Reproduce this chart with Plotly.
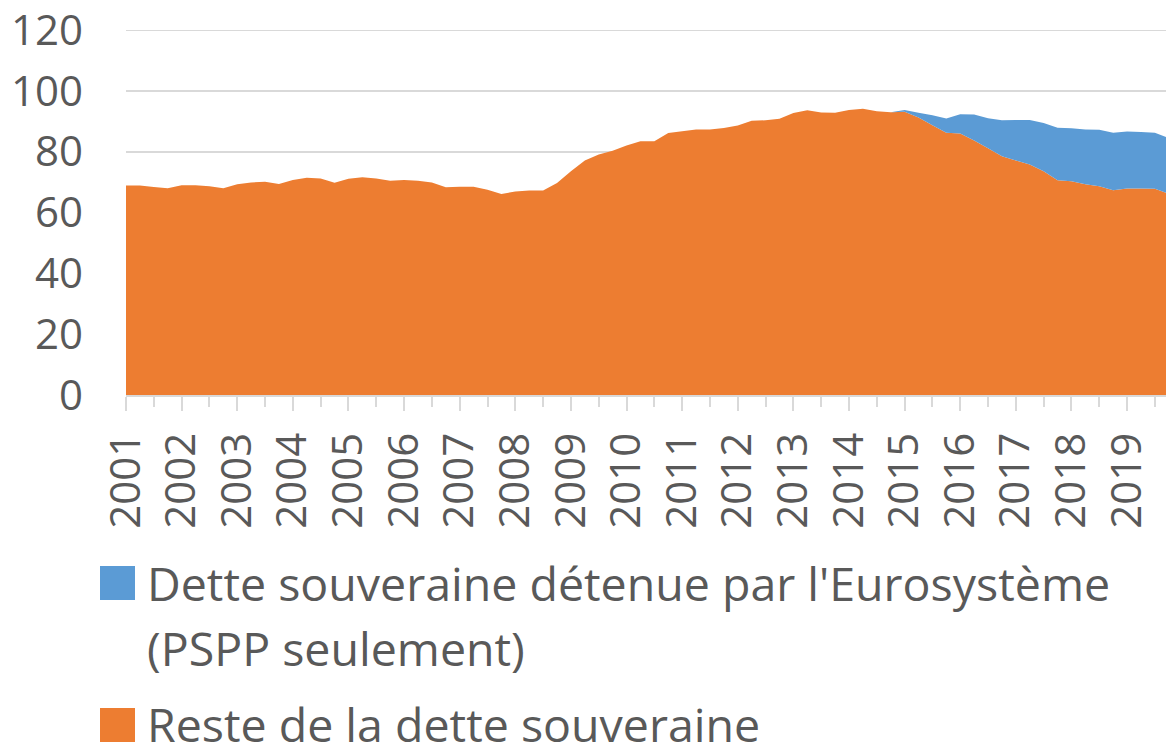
import plotly.graph_objects as go

# ---- data (quarterly, 2001Q1 .. 2019Q4) ----
years = [str(y) for y in range(2001, 2020)]
reste = [68.9, 68.9, 68.4, 68.0, 69.0, 69.0, 68.6, 68.0, 69.3, 69.9, 70.1, 69.4,
         70.7, 71.4, 71.2, 69.8, 71.1, 71.6, 71.2, 70.4, 70.7, 70.4, 69.9, 68.3,
         68.5, 68.5, 67.5, 66.1, 66.9, 67.2, 67.2, 69.7, 73.6, 77.1, 79.1, 80.3,
         82.0, 83.4, 83.4, 86.1, 86.7, 87.3, 87.3, 87.8, 88.6, 90.2, 90.3, 90.8,
         92.7, 93.6, 92.9, 92.8, 93.7, 94.1, 93.3, 93.0, 93.1, 91.2, 88.7, 86.2,
         86.0, 83.7, 81.1, 78.5, 77.1, 75.8, 73.6, 70.6, 70.3, 69.3, 68.6, 67.3,
         67.9, 67.9, 67.8, 66.2]
pspp = [0.0] * 56 + [0.6, 1.6, 3.3, 4.7, 6.3, 8.5, 9.9, 11.8, 13.3, 14.6, 15.8, 17.3,
                     17.4, 18.0, 18.6, 18.9, 18.7, 18.6, 18.4, 18.3]
idx = list(range(len(reste)))
label_blue = "Dette souveraine détenue par l'Eurosystème"
label_blue2 = "(PSPP seulement)"
label_orange = "Reste de la dette souveraine"

ORANGE = "#ED7D31"
BLUE = "#5B9BD5"
TXT = "#595959"
GRID = "#D9D9D9"
FONT = "Open Sans"
FS_TICK = 42
FS_LEG = 46.5

W, H = 1166, 744
L, R, T, B = 126, 0, 30, 744 - 395
PW, PH = W - L - R, H - T - B


def px(x):  # page pixel -> paper x
    return (x - L) / PW


def py(y):  # page pixel -> paper y
    return (H - B - y) / PH


fig = go.Figure()
fig.add_trace(go.Scatter(x=idx, y=reste, stackgroup="one", mode="none",
                         fillcolor=ORANGE, name=label_orange, showlegend=False))
fig.add_trace(go.Scatter(x=idx, y=pspp, stackgroup="one", mode="none",
                         fillcolor=BLUE, name=label_blue, showlegend=False))

fig.update_layout(
    width=W, height=H,
    margin=dict(l=L, r=R, t=T, b=B, pad=0),
    paper_bgcolor="white", plot_bgcolor="white",
    font=dict(family=FONT, size=FS_TICK, color=TXT),
    showlegend=False,
)
fig.update_yaxes(range=[0, 120], dtick=20, showgrid=True, gridcolor=GRID, gridwidth=2,
                 zeroline=False, showline=False, ticks="", ticklabelstandoff=42,
                 ticklabeloverflow="allow",
                 tickfont=dict(size=FS_TICK, color=TXT, family=FONT))
fig.update_xaxes(range=[0, 74.8], tickmode="array", tickvals=list(range(0, 76, 4)),
                 ticktext=years, tickangle=-90, showgrid=False, zeroline=False,
                 showline=True, linecolor=GRID, linewidth=2,
                 ticks="outside", ticklen=14, tickcolor=GRID, tickwidth=2,
                 minor=dict(tickmode="linear", tick0=0, dtick=2, ticks="outside",
                            ticklen=10, tickcolor=GRID, tickwidth=2, showgrid=False),
                 ticklabelstandoff=5,
                 tickfont=dict(size=FS_TICK, color=TXT, family=FONT))

# top gridline (Plotly omits the grid line at the range end)
fig.add_shape(type="line", xref="paper", yref="y", x0=0, x1=1, y0=120, y1=120,
              line=dict(color=GRID, width=2), layer="below")

# legend drawn manually (large square keys)
fig.add_shape(type="rect", xref="paper", yref="paper", x0=px(100), x1=px(135),
              y0=py(600), y1=py(566), fillcolor=BLUE, line=dict(width=0))
fig.add_shape(type="rect", xref="paper", yref="paper", x0=px(100), x1=px(135),
              y0=py(742), y1=py(708), fillcolor=ORANGE, line=dict(width=0))
for text, yy in [(label_blue, 583), (label_blue2, 648), (label_orange, 724)]:
    fig.add_annotation(text=text, xref="paper", yref="paper", x=px(145), y=py(yy),
                       xanchor="left", yanchor="middle", showarrow=False,
                       font=dict(size=FS_LEG, color=TXT, family=FONT))

fig.write_html("out.html", config={"displayModeBar": False},
               post_script="document.body.style.margin='0px';")
